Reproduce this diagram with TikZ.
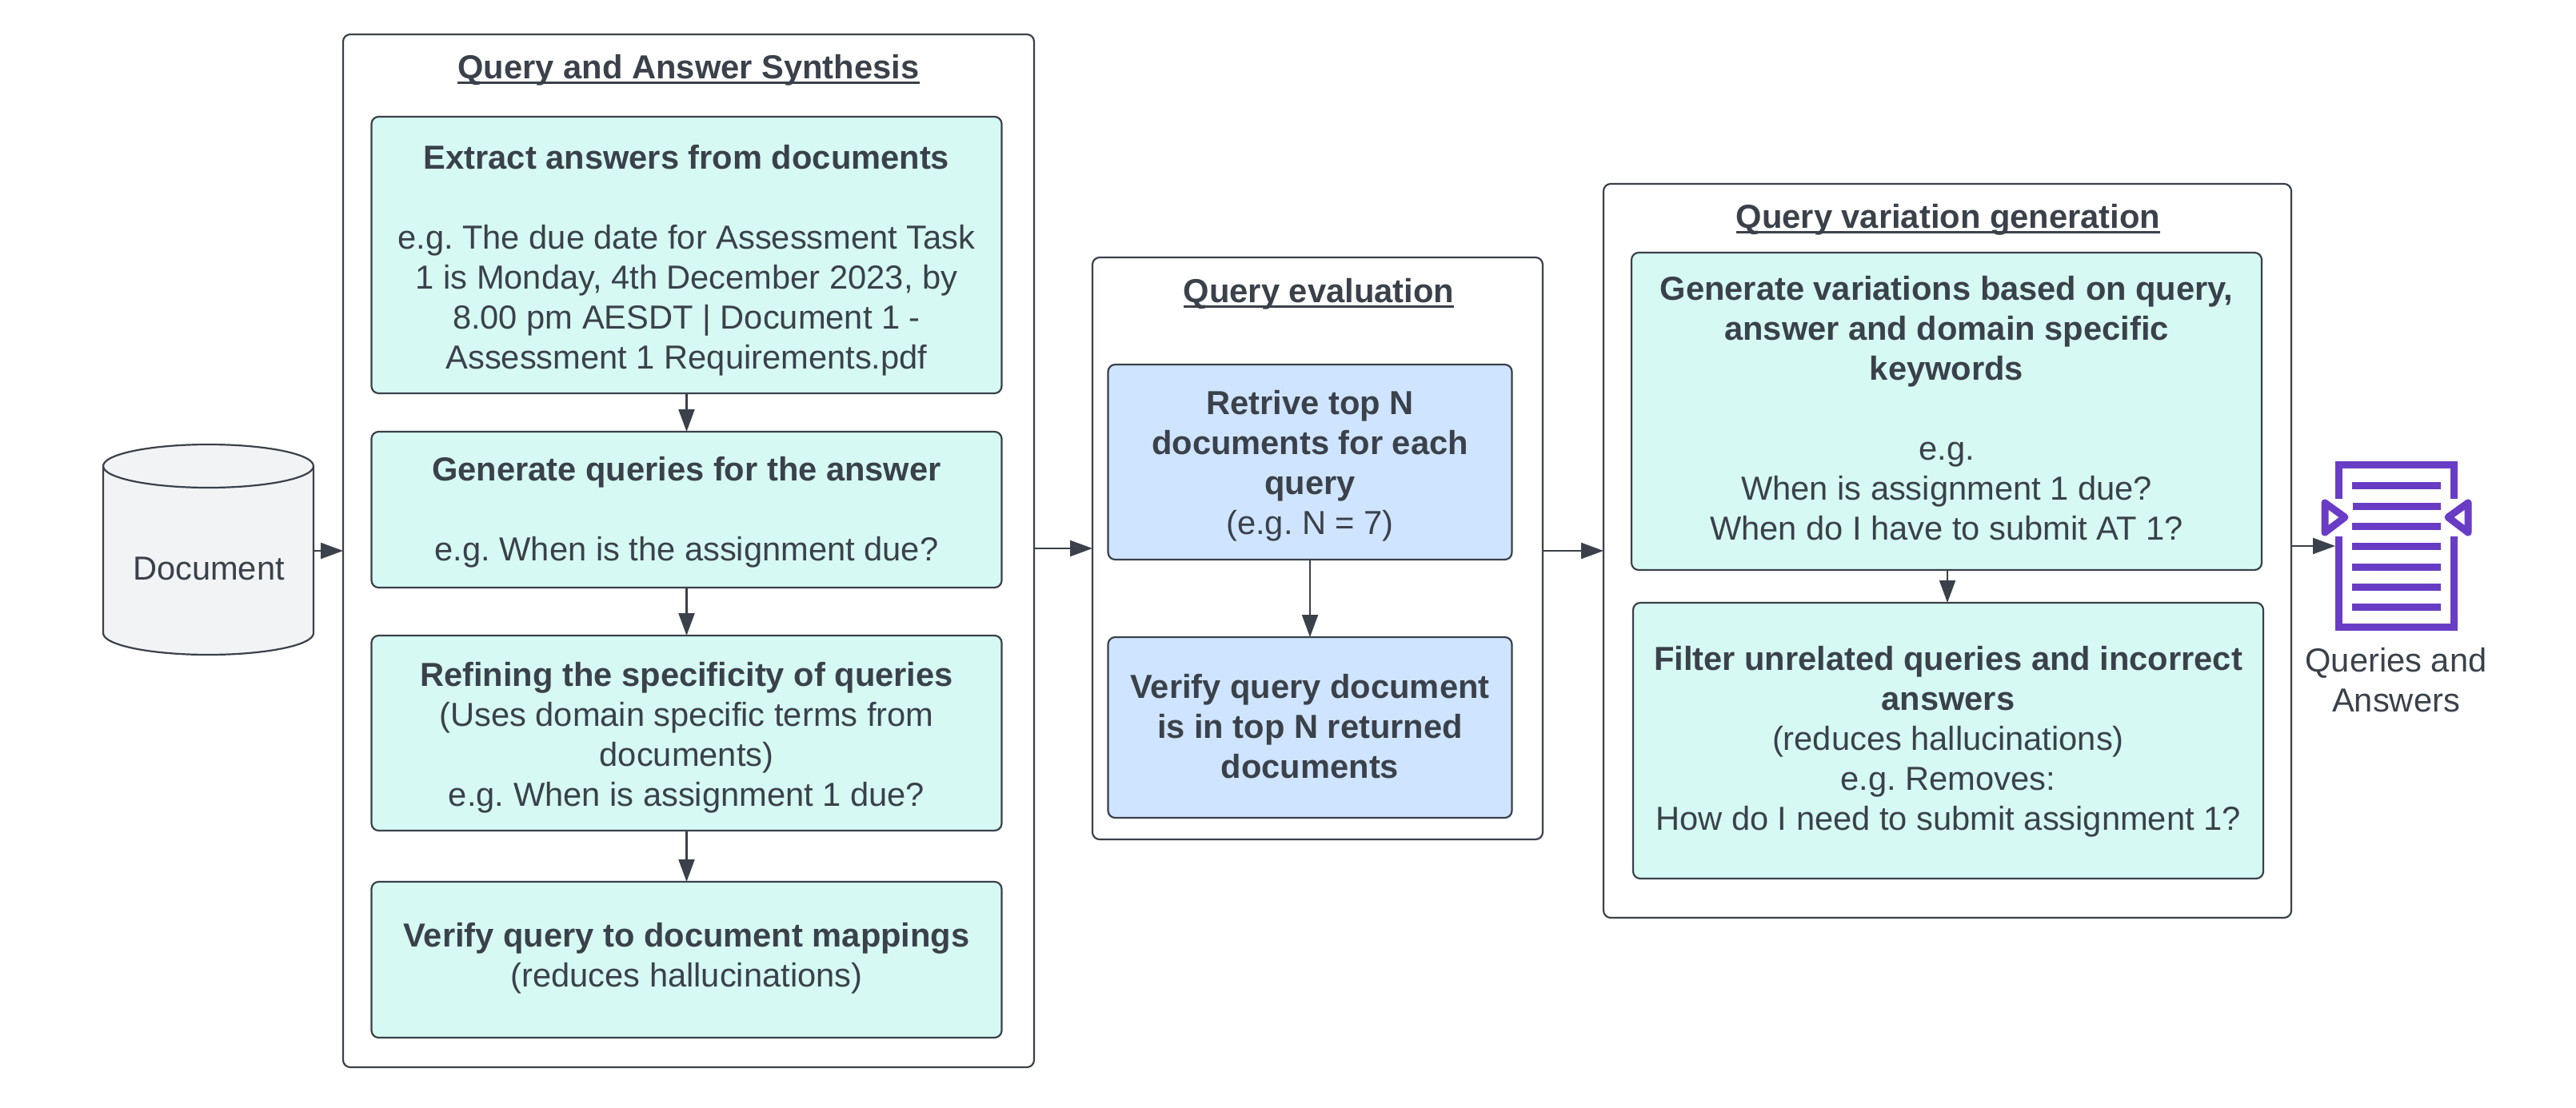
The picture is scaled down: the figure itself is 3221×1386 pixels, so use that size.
\documentclass[tikz,border=0pt]{standalone}
\usepackage{fontspec}
\setmainfont{Liberation Sans}
\usetikzlibrary{arrows.meta}
\definecolor{inkgray}{HTML}{3A414A}
\definecolor{mintfill}{HTML}{D6F9F3}
\definecolor{bluefill}{HTML}{CFE4FF}
\definecolor{cylfill}{HTML}{F2F3F5}
\definecolor{iconpurple}{HTML}{693CC5}
\newsavebox{\titlebox}
\newcommand{\titleline}[1]{\sbox{\titlebox}{#1}\usebox{\titlebox}\llap{\rule[-6pt]{\wd\titlebox}{3pt}}}
\newcommand{\topdrop}[1]{\rule{0pt}{#1}}
\newcommand{\bottomlift}[1]{\rule[-#1]{0pt}{0pt}}
\tikzset{
	panel/.style = {draw = inkgray, line width = 2.2pt, rounded corners = 9pt, inner sep = 0pt, outer sep = 0pt},
	mintbox/.style = {panel, fill = mintfill, align = center, text = inkgray, font = \fontsize{41.65}{50}\selectfont\frenchspacing},
	bluebox/.style = {mintbox, fill = bluefill},
	paneltitle/.style = {text = inkgray, inner sep = 0pt, font = \fontsize{41.7}{50}\selectfont\bfseries},
	plainlabel/.style = {text = inkgray, align = center, inner sep = 0pt, font = \fontsize{41.65}{50}\selectfont},
	flow/.style = {draw = inkgray, line width = 2.2pt, -{Triangle[length = 28pt, width = 20pt]}},
	iconline/.style = {draw = iconpurple, line width = 9pt}
}
\begin{document}
\begin{tikzpicture}[x = 1pt, y = -1pt]
	\useasboundingbox (0,0) rectangle (3221,1386);
	% panels
	\node [panel, minimum width = 864pt, minimum height = 1292pt] (synthesis) at (861,689) {};
	\node [panel, minimum width = 563pt, minimum height = 728pt] (evaluation) at (1647.5,686) {};
	\node [panel, minimum width = 860pt, minimum height = 918pt] (variation) at (2435,689) {};
	\node [paneltitle] (synthesistitle) at (861,88) {\titleline{Query and Answer Synthesis}};
	\node [paneltitle] (evaluationtitle) at (1649,368) {\titleline{Query evaluation}};
	\node [paneltitle] (variationtitle) at (2436,275) {\titleline{Query variation generation}};
	% synthesis boxes
	\node [mintbox, minimum width = 788pt, minimum height = 346pt] (extract) at (858.5,319) {\topdrop{43pt}\textbf{Extract answers from documents}\\[50pt] e.g. The due date for Assessment Task\\ 1 is Monday, 4th December 2023, by\\ 8.00 pm AESDT | Document 1 -\\ Assessment 1 Requirements.pdf};
	\node [mintbox, minimum width = 788pt, minimum height = 195pt] (generate) at (858.5,637.5) {\topdrop{37pt}\textbf{Generate queries for the answer}\\[50pt] e.g. When is the assignment due?};
	\node [mintbox, minimum width = 788pt, minimum height = 244pt] (refine) at (858.5,917) {\topdrop{41pt}\textbf{Refining the specificity of queries}\\ (Uses domain specific terms from\\ documents)\\ e.g. When is assignment 1 due?};
	\node [mintbox, minimum width = 788pt, minimum height = 195pt] (verifymap) at (858.5,1200.5) {\textbf{Verify query to document mappings}\\ (reduces hallucinations)\bottomlift{13pt}};
	% evaluation boxes
	\node [bluebox, minimum width = 505pt, minimum height = 244pt] (retrieve) at (1638,578) {\topdrop{39pt}\textbf{Retrive top N}\\ \textbf{documents for each}\\ \textbf{query}\\ (e.g. N = 7)};
	\node [bluebox, minimum width = 505pt, minimum height = 226pt] (verifytop) at (1638,910) {\textbf{Verify query document}\\ \textbf{is in top N returned}\\ \textbf{documents}\bottomlift{4pt}};
	% variation boxes
	\node [mintbox, minimum width = 788pt, minimum height = 397pt] (variations) at (2434,514.5) {\textbf{Generate variations based on query,}\\ \textbf{answer and domain specific}\\ \textbf{keywords}\\[50pt] e.g.\\ When is assignment 1 due?\\ When do I have to submit AT 1?\bottomlift{9pt}};
	\node [mintbox, minimum width = 788pt, minimum height = 345pt] (filter) at (2436,926.5) {\topdrop{33pt}\textbf{Filter unrelated queries and incorrect}\\ \textbf{answers}\\ (reduces hallucinations)\\ e.g. Removes:\\ How do I need to submit assignment 1?};
	% source cylinder
	\node [minimum width = 263pt, minimum height = 263pt, inner sep = 0pt, outer sep = 0pt] (document) at (260.5,687.5) {};
	\draw [draw = inkgray, fill = cylfill, line width = 2.2pt] (129,583) arc [start angle = 180, end angle = 0, x radius = 131.5pt, y radius = 27pt] -- (392,792) arc [start angle = 0, end angle = -180, x radius = 131.5pt, y radius = 27pt] -- cycle;
	\draw [draw = inkgray, line width = 2.2pt] (129,583) arc [start angle = 180, end angle = 360, x radius = 131.5pt, y radius = 27pt];
	\node [plainlabel] (documentlabel) at (261,711) {Document};
	% output icon
	\node [minimum width = 153pt, minimum height = 212pt, inner sep = 0pt, outer sep = 0pt] (icon) at (2996.5,683) {};
	\draw [iconline] (2924.5,624) -- (2924.5,581.5) -- (3068.5,581.5) -- (3068.5,624);
	\draw [iconline] (2924.5,671) -- (2924.5,784.5) -- (3068.5,784.5) -- (3068.5,671);
	\draw [iconline] (2941,607) -- (3052,607);
	\draw [iconline] (2942,633) -- (3052,633);
	\draw [iconline] (2941,658) -- (3052,658);
	\draw [iconline] (2941,683) -- (3052,683);
	\draw [iconline] (2941,709) -- (3052,709);
	\draw [iconline] (2941,734) -- (3052,734);
	\draw [iconline] (2941,759) -- (3052,759);
	\draw [iconline, line join = round] (2907,629) -- (2932,647) -- (2907,666) -- cycle;
	\draw [iconline, line join = round] (3086,629) -- (3061,647) -- (3086,666) -- cycle;
	\node [plainlabel] (iconlabel) at (2996,851) {Queries and\\ Answers};
	% connectors
	\draw [flow] (document.east |- synthesis.west) -- (synthesis.west);
	\draw [flow] (extract) -- (generate);
	\draw [flow] (generate) -- (refine);
	\draw [flow] (refine) -- (verifymap);
	\draw [flow] (synthesis.east |- evaluation.west) -- (evaluation.west);
	\draw [flow] (retrieve) -- (verifytop);
	\draw [flow] (evaluation.east |- variation.west) -- (variation.west);
	\draw [flow] (variations.south -| variation.center) -- (variation.center |- filter.north);
	\draw [flow] (variation.east |- icon.west) -- (icon.west);
\end{tikzpicture}
\end{document}
